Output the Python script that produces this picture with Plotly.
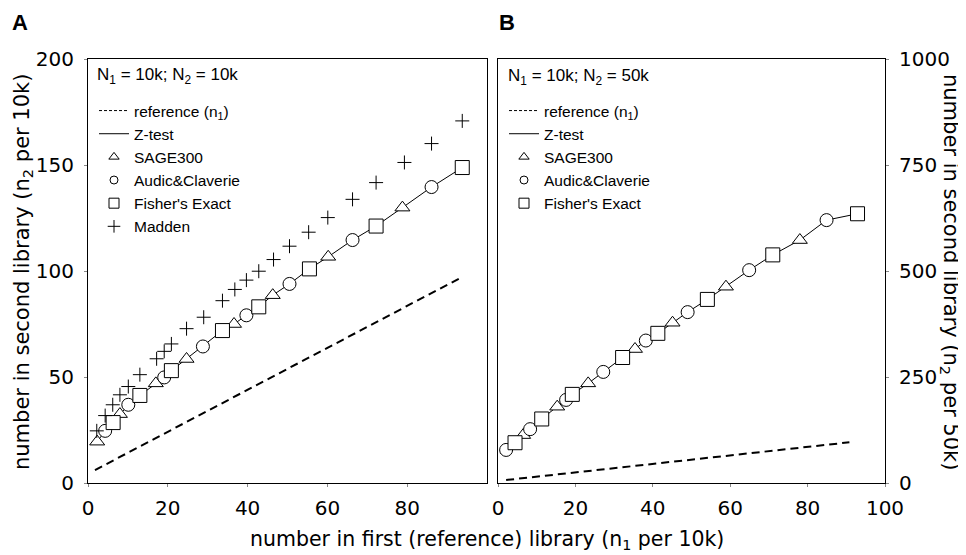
import plotly.graph_objects as go

# ---------------- Panel A data (N1 = 10k; N2 = 10k) ----------------
ref_a_x = [1.75, 93.4]
ref_a_y = [6.1, 96.8]

sage_a_x = [2.3, 8.0, 17.0, 24.7, 36.6, 46.3, 60.2, 78.8]
sage_a_y = [19.5, 32.5, 47.0, 58.5, 75.0, 88.6, 106.7, 129.9]

audic_a_x = [4.3, 10.1, 19.1, 28.8, 39.7, 50.5, 66.3, 86.1]
audic_a_y = [24.6, 36.9, 49.8, 64.4, 79.1, 93.9, 114.6, 139.6]

fisher_a_x = [6.3, 13.0, 20.9, 33.7, 42.8, 55.5, 72.2, 93.8]
fisher_a_y = [28.5, 41.3, 53.0, 71.9, 83.1, 101.0, 121.2, 148.8]

madden_a_x = [2.2, 4.3, 6.2, 8.0, 10.1, 13.0, 17.2, 19.1, 20.9, 24.7, 29.0, 33.7,
              36.8, 39.7, 42.8, 46.5, 50.5, 55.3, 60.1, 66.3, 72.2, 79.3, 86.1, 93.8]
madden_a_y = [24.6, 31.8, 36.9, 41.6, 45.5, 51.1, 58.6, 62.1, 65.6, 72.8, 78.2, 86.0,
              91.3, 95.7, 99.9, 105.4, 111.7, 118.3, 125.2, 133.8, 141.7, 151.2, 160.1, 170.8]

ztest_a_x = [2.3, 4.3, 6.3, 8.0, 10.1, 13.0, 17.0, 19.1, 20.9, 24.7, 28.8, 33.7,
             36.6, 39.7, 42.8, 46.3, 50.5, 55.5, 60.2, 66.3, 72.2, 78.8, 86.1, 93.8]
ztest_a_y = [19.5, 24.6, 28.5, 32.5, 36.9, 41.3, 47.0, 49.8, 53.0, 58.5, 64.4, 71.9,
             75.0, 79.1, 83.1, 88.6, 93.9, 101.0, 106.7, 114.6, 121.2, 129.9, 139.6, 148.8]

# ---------------- Panel B data (N1 = 10k; N2 = 50k) ----------------
ref_b_x = [2.1, 90.8]
ref_b_y = [7.0, 96.0]

sage_b_x = [6.5, 15.3, 23.3, 35.4, 45.1, 58.9, 78.0]
sage_b_y = [113, 180, 235, 316, 378, 463, 573]

audic_b_x = [2.1, 8.3, 17.6, 27.2, 38.2, 49.0, 64.9, 84.9]
audic_b_y = [78, 127, 196, 262, 336, 403, 502, 620]

fisher_b_x = [4.4, 11.3, 19.2, 32.2, 41.3, 54.1, 71.0, 92.9]
fisher_b_y = [95, 151, 209, 296, 353, 433, 538, 635]

ztest_b_x = [0.5, 2.1, 4.4, 6.5, 8.3, 11.3, 15.3, 17.6, 19.2, 23.3, 27.2, 32.2,
             35.4, 38.2, 41.3, 45.1, 49.0, 54.1, 58.9, 64.9, 71.0, 78.0, 84.9, 92.9]
ztest_b_y = [70, 78, 95, 113, 127, 151, 180, 196, 209, 235, 262, 296,
             316, 336, 353, 378, 403, 433, 463, 502, 538, 573, 620, 635]

# tick values
xa_ticks = [0, 20, 40, 60, 80]
xb_ticks = [0, 20, 40, 60, 80, 100]
ya_ticks = [0, 50, 100, 150, 200]
yb_ticks = [0, 250, 500, 750, 1000]

FONT = "Liberation Sans, Arial, Helvetica, sans-serif"
AXFONT = "DejaVu Sans, Liberation Sans, sans-serif"

# the page body has an 8px margin: the figure occupies page pixels 8..966 / 8..555
OFF = 8
W, H = 966 - OFF, 555 - OFF

fig = go.Figure()

SYMBOLS = {"SAGE300": ("triangle-up", 13, 9),
           "Audic&amp;Claverie": ("circle", 13, 8),
           "Fisher's Exact": ("square", 14, 10)}


def add_panel(xaxis, yaxis, legend, rx, ry, zx, zy, series, madden=None):
    # data traces (not in legend)
    fig.add_trace(go.Scatter(x=rx, y=ry, mode="lines", showlegend=False,
                             line=dict(color="black", width=2, dash="8px,5px"),
                             xaxis=xaxis, yaxis=yaxis))
    fig.add_trace(go.Scatter(x=zx, y=zy, mode="lines", showlegend=False,
                             line=dict(color="black", width=1),
                             xaxis=xaxis, yaxis=yaxis))
    for name, sx, sy in series:
        sym, size, _ = SYMBOLS[name]
        fig.add_trace(go.Scatter(x=sx, y=sy, mode="markers", showlegend=False,
                                 marker=dict(symbol=sym, size=size, color="white",
                                             line=dict(color="black", width=1)),
                                 xaxis=xaxis, yaxis=yaxis))
    if madden is not None:
        fig.add_trace(go.Scatter(x=madden[0], y=madden[1], mode="markers", showlegend=False,
                                 marker=dict(symbol="cross-thin", size=10, color="black",
                                             line=dict(color="black", width=1)),
                                 xaxis=xaxis, yaxis=yaxis))
    # legend entries (smaller symbols, as in the original key)
    fig.add_trace(go.Scatter(x=[None], y=[None], mode="lines", name="reference (n<sub>1</sub>)",
                             line=dict(color="black", width=1, dash="3px,2px"),
                             xaxis=xaxis, yaxis=yaxis, legend=legend))
    fig.add_trace(go.Scatter(x=[None], y=[None], mode="lines", name="Z-test",
                             line=dict(color="black", width=1),
                             xaxis=xaxis, yaxis=yaxis, legend=legend))
    for name, _, _ in series:
        sym, _, lsize = SYMBOLS[name]
        fig.add_trace(go.Scatter(x=[None], y=[None], mode="markers", name=name,
                                 marker=dict(symbol=sym, size=lsize, color="white",
                                             line=dict(color="black", width=1)),
                                 xaxis=xaxis, yaxis=yaxis, legend=legend))
    if madden is not None:
        fig.add_trace(go.Scatter(x=[None], y=[None], mode="markers", name="Madden",
                                 marker=dict(symbol="cross-thin", size=9, color="black",
                                             line=dict(color="black", width=1)),
                                 xaxis=xaxis, yaxis=yaxis, legend=legend))


add_panel("x", "y", "legend", ref_a_x, ref_a_y, ztest_a_x, ztest_a_y,
          [("SAGE300", sage_a_x, sage_a_y),
           ("Audic&amp;Claverie", audic_a_x, audic_a_y),
           ("Fisher's Exact", fisher_a_x, fisher_a_y)],
          madden=(madden_a_x, madden_a_y))
add_panel("x2", "y2", "legend2", ref_b_x, ref_b_y, ztest_b_x, ztest_b_y,
          [("SAGE300", sage_b_x, sage_b_y),
           ("Audic&amp;Claverie", audic_b_x, audic_b_y),
           ("Fisher's Exact", fisher_b_x, fisher_b_y)])


def px_x(p):
    return (p - OFF) / W


def px_y(p):
    return 1 - (p - OFF) / H


axis_common = dict(showline=True, linecolor="black", linewidth=1, mirror=True,
                   ticks="outside", ticklen=3, tickcolor="#888", showgrid=False,
                   zeroline=False, automargin=False,
                   tickfont=dict(family=AXFONT, size=20, color="black"))

LEG = dict(xanchor="left", yanchor="top", bgcolor="rgba(0,0,0,0)",
           font=dict(family=FONT, size=15.5, color="black"),
           tracegroupgap=0, itemwidth=30, borderwidth=0)

fig.update_layout(
    template="none",
    width=W, height=H,
    margin=dict(l=0, r=0, t=0, b=0, pad=0, autoexpand=False),
    paper_bgcolor="white", plot_bgcolor="white",
    font=dict(family=FONT, color="black"),
    showlegend=True,
    xaxis=dict(domain=[px_x(88), px_x(487)], range=[0, 100], tickvals=xa_ticks,
               anchor="y", ticklabelstandoff=4, **axis_common),
    yaxis=dict(domain=[px_y(483), px_y(59)], range=[0, 200], tickvals=ya_ticks,
               anchor="x", ticklabelstandoff=6, **axis_common),
    xaxis2=dict(domain=[px_x(498), px_x(885)], range=[0, 100], tickvals=xb_ticks,
                anchor="y2", ticklabelstandoff=4, **axis_common),
    yaxis2=dict(domain=[px_y(483), px_y(59)], range=[0, 1000], tickvals=yb_ticks,
                anchor="x2", side="right", ticklabelstandoff=6, **axis_common),
    legend=dict(x=px_x(94), y=px_y(94), **LEG),
    legend2=dict(x=px_x(504), y=px_y(94), **LEG),
)

annotations = [
    dict(text="<b>A</b>", x=px_x(10), y=px_y(22), xanchor="left", yanchor="middle",
         font=dict(size=22)),
    dict(text="<b>B</b>", x=px_x(497), y=px_y(22), xanchor="left", yanchor="middle",
         font=dict(size=22)),
    dict(text="N<sub>1</sub> = 10k; N<sub>2</sub> = 10k", x=px_x(95), y=px_y(76),
         xanchor="left", yanchor="middle", font=dict(size=17)),
    dict(text="N<sub>1</sub> = 10k; N<sub>2</sub> = 50k", x=px_x(506), y=px_y(77),
         xanchor="left", yanchor="middle", font=dict(size=17)),
    dict(text="number in first (reference) library (n<sub>1</sub> per 10k)",
         x=px_x(487), y=px_y(540), xanchor="center", yanchor="middle",
         font=dict(size=20.5, family=AXFONT)),
    dict(text="number in second library (n<sub>2</sub> per 10k)", textangle=-90,
         x=px_x(23), y=px_y(272), xanchor="center", yanchor="middle",
         font=dict(size=21, family=AXFONT)),
    dict(text="number in second library (n<sub>2</sub> per 50k)", textangle=90,
         x=px_x(950), y=px_y(272), xanchor="center", yanchor="middle",
         font=dict(size=21, family=AXFONT)),
]
for a in annotations:
    a.update(xref="paper", yref="paper", showarrow=False)
    a["font"].setdefault("family", FONT)
    a["font"]["color"] = "black"
fig.update_layout(annotations=annotations)

fig.write_html("out.html")
